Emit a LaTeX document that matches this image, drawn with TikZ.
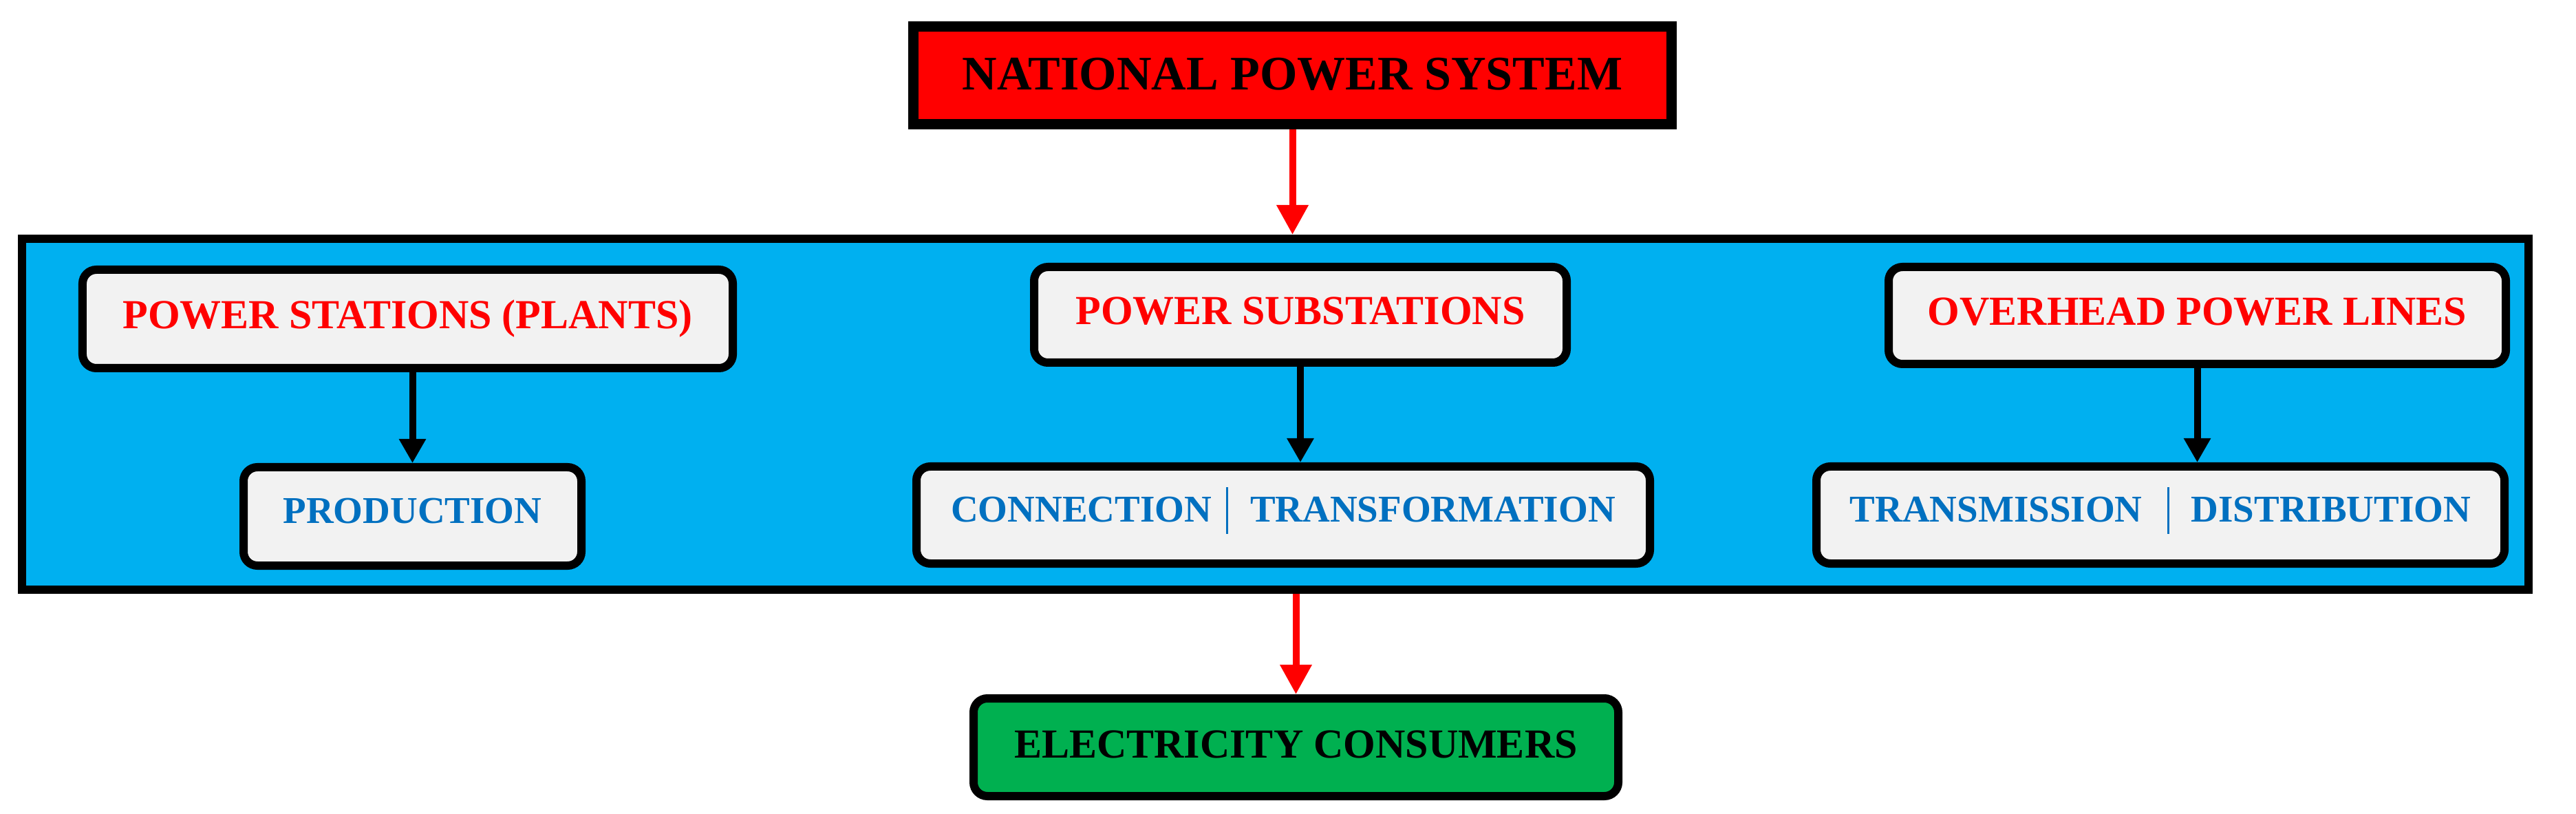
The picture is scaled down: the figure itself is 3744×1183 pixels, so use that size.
\documentclass[tikz,border=0pt]{standalone}
\usepackage{fontspec}
\setmainfont{Liberation Serif}
\usetikzlibrary{arrows.meta}
\definecolor{nred}{HTML}{FF0000}
\definecolor{panelblue}{HTML}{00B0F0}
\definecolor{tblue}{HTML}{0070C0}
\definecolor{cardgray}{HTML}{F2F2F2}
\definecolor{cgreen}{HTML}{00B050}
\newcommand{\sepbar}{\textcolor{tblue}{\rule[-3.4pt]{0.6pt}{13.4pt}}}
\begin{document}
\begin{tikzpicture}[x=0.2pt,y=-0.2pt,
  card/.style={draw=black, line width=2.4pt, fill=cardgray, rounded corners=4pt, inner sep=0pt, align=center},
  redtxt/.style={text=nred, font=\fontsize{12}{14}\selectfont\bfseries, text height=8pt, text depth=2.5pt},
  bluetxt/.style={text=tblue, font=\fontsize{11}{13}\selectfont\bfseries, text height=7.3pt, text depth=3.3pt},
  redarrow/.style={draw=nred, line width=2pt, -{Triangle[length=8.6pt,width=8.8pt]}},
  blackarrow/.style={draw=black, line width=2pt, -{Triangle[length=7pt,width=7.4pt]}}
]
\useasboundingbox (0,0) rectangle (3744,1183);

% big panel
\node[draw=black, line width=2.4pt, fill=panelblue, inner sep=0pt,
      minimum width=728.6pt, minimum height=102pt] (panel) at (1853.5,602) {};

% top box
\node[draw=black, line width=3pt, fill=nred, inner sep=0pt,
      minimum width=220.4pt, minimum height=28.4pt,
      font=\fontsize{14}{16}\selectfont\bfseries, text height=9.3pt, text depth=1pt]
      (nps) at (1878.5,109.5) {NATIONAL POWER SYSTEM};

% row 1
\node[card, redtxt, minimum width=189pt, minimum height=28.6pt] (ps) at (592.5,463.5) {POWER STATIONS (PLANTS)};
\node[card, redtxt, minimum width=154.8pt, minimum height=27.8pt] (psub) at (1890,457.5) {POWER SUBSTATIONS};
\node[card, redtxt, minimum width=179.4pt, minimum height=28.2pt] (opl) at (3193.5,458.5) {OVERHEAD POWER LINES};

% row 2
\node[card, bluetxt, minimum width=98.2pt, minimum height=28.6pt] (prod) at (599.5,750.5) {PRODUCTION};
\node[card, bluetxt, minimum width=213.2pt, minimum height=28.2pt] (ct) at (1865,748.5)
  {CONNECTION\hspace{4.2pt}\sepbar\hspace{6.4pt}TRANSFORMATION};
\node[card, bluetxt, minimum width=200pt, minimum height=28.2pt] (td) at (3140,748.5)
  {TRANSMISSION\hspace{7.2pt}\sepbar\hspace{6.4pt}DISTRIBUTION};

% bottom box
\node[draw=black, line width=2.4pt, fill=cgreen, rounded corners=4pt, inner sep=0pt,
      minimum width=187.4pt, minimum height=28.4pt,
      font=\fontsize{12}{14}\selectfont\bfseries, text height=8pt, text depth=2pt]
      (ec) at (1883.5,1086) {ELECTRICITY CONSUMERS};

% connectors
\draw[redarrow] (nps.south) -- (nps.south |- panel.north);
\draw[blackarrow] (prod.north |- ps.south) -- (prod.north);
\draw[blackarrow] (psub.south) -- (psub.south |- ct.north);
\draw[blackarrow] (opl.south) -- (opl.south |- td.north);
\draw[redarrow] (ec.north |- panel.south) -- (ec.north);
\end{tikzpicture}
\end{document}
